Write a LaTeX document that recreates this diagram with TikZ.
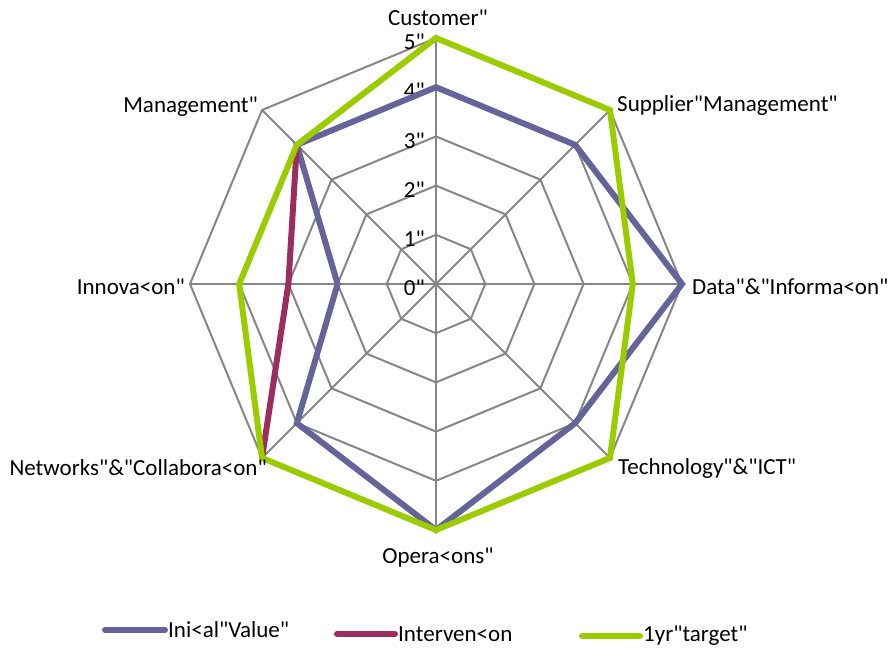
\documentclass[tikz,border=0pt]{standalone}
\usepackage{fontspec}
\setmainfont{Carlito}[Ligatures=TeXOff]
\newcommand\myq{\symbol{34}}
\definecolor{gridgray}{RGB}{134,134,134}
\definecolor{serblue}{RGB}{100,100,155}
\definecolor{sermaroon}{RGB}{155,45,95}
\definecolor{sergreen}{RGB}{155,204,0}
\begin{document}
\begin{tikzpicture}[x=1pt,y=1pt,
  grid/.style={draw=gridgray, line width=2pt},
  series/.style={line width=6pt, line join=miter},
  lab/.style={font=\fontsize{23}{27}\selectfont, inner sep=0pt},
  legline/.style={line width=6pt, line cap=round}]
\useasboundingbox (-436,-367) rectangle (459,284);
\def\u{49.2}
% grid octagons
\foreach \k in {1,...,5}{
  \draw[grid] (90:{\k*\u}) -- (45:{\k*\u}) -- (0:{\k*\u}) -- (-45:{\k*\u}) -- (-90:{\k*\u}) -- (-135:{\k*\u}) -- (180:{\k*\u}) -- (135:{\k*\u}) -- cycle;
}
\foreach \a in {0,45,...,315}{
  \draw[grid] (0,0) -- (\a:{5*\u});
}
% tick labels
\foreach \k in {0,...,5}{
  \node[lab, anchor=east] (t\k) at (-11,{\k*\u-4}) {\k\myq};
}
% series
\draw[series, serblue] (90:{4*\u}) -- (45:{4*\u}) -- (0:{5*\u}) -- (-45:{4*\u}) -- (-90:{5*\u}) -- (-135:{4*\u}) -- (180:{2*\u}) -- (135:{4*\u}) -- cycle;
\draw[series, sermaroon] (135:{4*\u}) -- (180:{3*\u}) -- (-135:{5*\u});
\draw[series, sergreen] (90:{5*\u}) -- (45:{5*\u}) -- (0:{4*\u}) -- (-45:{5*\u}) -- (-90:{5*\u}) -- (-135:{5*\u}) -- (180:{4*\u}) -- (135:{4*\u}) -- cycle;
% axis labels
\node[lab] (cust) at (2,266) {Customer\myq};
\node[lab, anchor=west] (supp) at (181,179) {Supplier\myq Management\myq};
\node[lab, anchor=west] (data) at (256,-3) {Data\myq\&\myq Informa<on\myq};
\node[lab, anchor=west] (tech) at (182,-184) {Technology\myq\&\myq ICT\myq};
\node[lab] (ops) at (2,-274) {Opera<ons\myq};
\node[lab, anchor=east] (netw) at (-169,-184) {Networks\myq\&\myq Collabora<on\myq};
\node[lab, anchor=east] (innov) at (-251,-3) {Innova<on\myq};
\node[lab, anchor=east] (mgmt) at (-178,177) {Management\myq};
% legend
\coordinate (l1a) at (-331,-346); \coordinate (l1b) at (-271,-346);
\draw[legline, serblue] (l1a) -- (l1b);
\node[lab, anchor=west] (leg1) at (-268,-346) {Ini<al\myq Value\myq};
\coordinate (l2a) at (-99,-350); \coordinate (l2b) at (-41,-350);
\draw[legline, sermaroon] (l2a) -- (l2b);
\node[lab, anchor=west] (leg2) at (-38,-350) {Interven<on};
\coordinate (l3a) at (146,-352); \coordinate (l3b) at (204,-352);
\draw[legline, sergreen] (l3a) -- (l3b);
\node[lab, anchor=west] (leg3) at (207,-352) {1yr\myq target\myq};
\end{tikzpicture}
\end{document}
